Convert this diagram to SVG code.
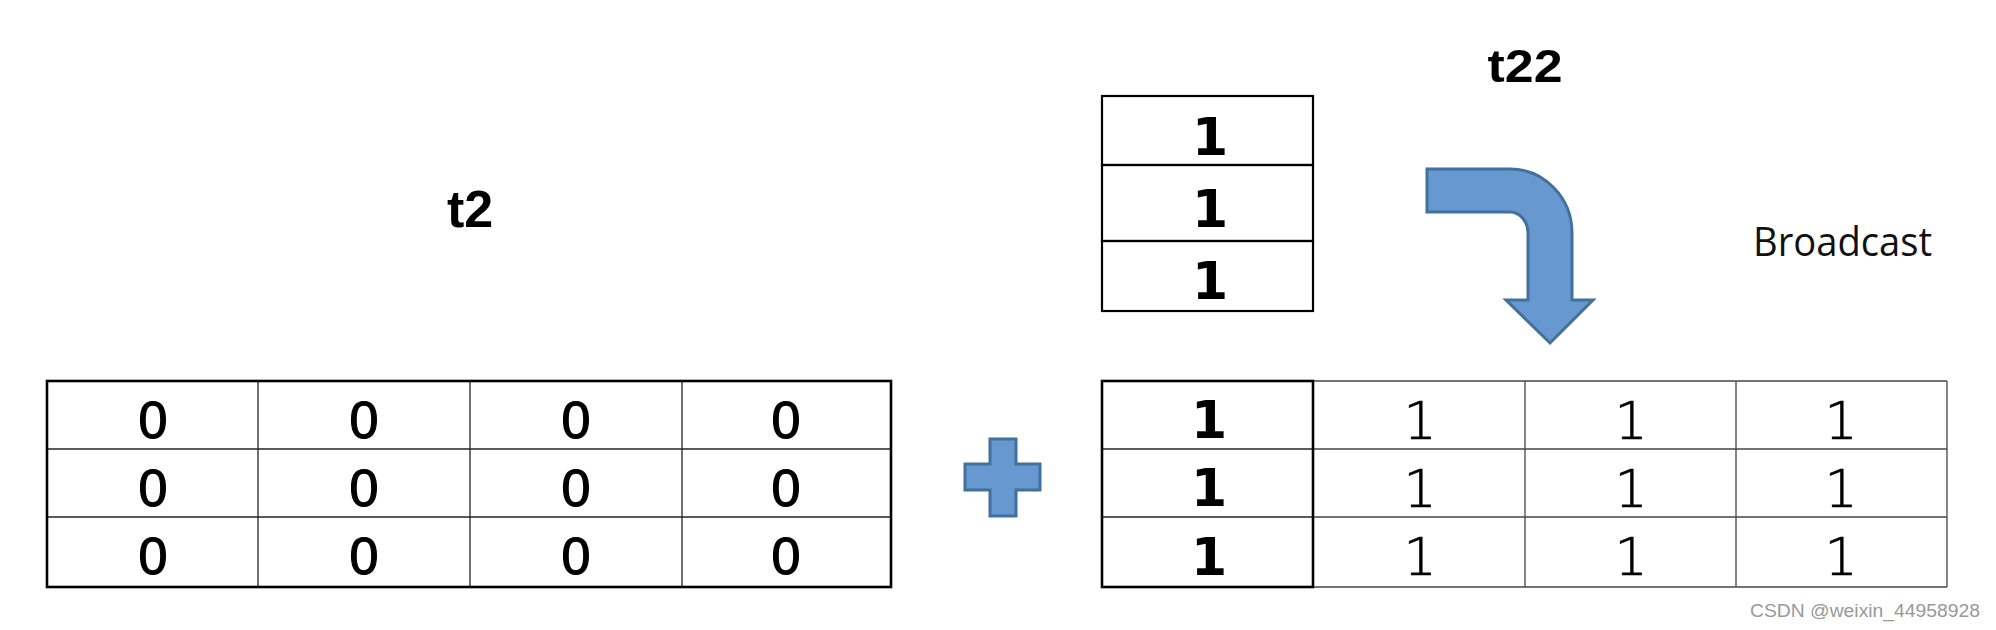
<svg xmlns="http://www.w3.org/2000/svg" width="1996" height="630" viewBox="0 0 1996 630">
<style>
.bg{fill:#ffffff}
.title{font-family:"Liberation Sans",Arial,sans-serif;font-weight:bold;fill:#000;text-anchor:middle}
.zero{font-family:"Liberation Sans",Arial,sans-serif;font-weight:normal;font-size:52px;fill:#000;stroke:#000;stroke-width:1.2;text-anchor:middle}
.oneb{font-family:"DejaVu Sans",sans-serif;font-weight:bold;font-size:52px;fill:#000;text-anchor:middle}
.onel{font-family:"DejaVu Sans",sans-serif;font-weight:200;font-size:52px;fill:#000;stroke:#000;stroke-width:0.7;text-anchor:middle}
.cell{fill:none;stroke:#222;stroke-width:1.3}
.outer{fill:none;stroke:#000;stroke-width:2.6}
.gcell{fill:none;stroke:#444;stroke-width:1.3}
.blue{fill:#6798D0;stroke:#41719C;stroke-width:3;stroke-linejoin:miter}
.label{font-family:"Open Sans","Noto Sans",sans-serif;font-size:40px;fill:#111}
.wm{font-family:"Liberation Sans",Arial,sans-serif;font-size:18px;fill:#999}
</style>
<rect class="bg" x="0" y="0" width="1996" height="630"/>

<g id="t2-label">
<text class="title" x="470" y="227" font-size="52">t2</text>
</g>

<g id="t2-table">
<line class="cell" x1="258" y1="381" x2="258" y2="587"/>
<line class="cell" x1="470" y1="381" x2="470" y2="587"/>
<line class="cell" x1="682" y1="381" x2="682" y2="587"/>
<line class="cell" x1="47" y1="449" x2="891" y2="449"/>
<line class="cell" x1="47" y1="517" x2="891" y2="517"/>
<rect class="outer" x="47" y="381" width="844" height="206"/>
<text class="zero" x="153" y="438">0</text>
<text class="zero" x="364" y="438">0</text>
<text class="zero" x="576" y="438">0</text>
<text class="zero" x="786" y="438">0</text>
<text class="zero" x="153" y="506">0</text>
<text class="zero" x="364" y="506">0</text>
<text class="zero" x="576" y="506">0</text>
<text class="zero" x="786" y="506">0</text>
<text class="zero" x="153" y="574">0</text>
<text class="zero" x="364" y="574">0</text>
<text class="zero" x="576" y="574">0</text>
<text class="zero" x="786" y="574">0</text>
</g>

<g id="t22-label">
<text class="title" x="1525" y="82" font-size="46" textLength="75" lengthAdjust="spacingAndGlyphs">t22</text>
</g>

<g id="t22-column">
<rect class="outer" x="1102" y="96" width="211" height="69" style="stroke-width:2.2"/>
<rect class="outer" x="1102" y="165" width="211" height="76" style="stroke-width:2.2"/>
<rect class="outer" x="1102" y="241" width="211" height="70" style="stroke-width:2.2"/>
<text class="oneb" x="1210" y="155">1</text>
<text class="oneb" x="1210" y="227">1</text>
<text class="oneb" x="1210" y="299">1</text>
</g>

<g id="broadcast-label">
<text class="label" x="1753" y="256" textLength="179" lengthAdjust="spacingAndGlyphs">Broadcast</text>
</g>

<g id="plus">
<path class="blue" d="M990,439 H1016 V464 H1040 V490 H1016 V516 H990 V490 H965 V464 H990 Z"/>
</g>

<g id="result-table">
<line class="gcell" x1="1313" y1="381" x2="1947" y2="381"/>
<line class="gcell" x1="1313" y1="587" x2="1947" y2="587"/>
<line class="gcell" x1="1525" y1="381" x2="1525" y2="587"/>
<line class="gcell" x1="1736" y1="381" x2="1736" y2="587"/>
<line class="gcell" x1="1947" y1="381" x2="1947" y2="587"/>
<line class="gcell" x1="1313" y1="449" x2="1947" y2="449"/>
<line class="gcell" x1="1313" y1="517" x2="1947" y2="517"/>
<line class="cell" x1="1102" y1="449" x2="1313" y2="449"/>
<line class="cell" x1="1102" y1="517" x2="1313" y2="517"/>
<rect class="outer" x="1102" y="381" width="211" height="206"/>
<text class="oneb" x="1209" y="438">1</text>
<text class="oneb" x="1209" y="506">1</text>
<text class="oneb" x="1209" y="575">1</text>
<text class="onel" x="1420" y="439">1</text>
<text class="onel" x="1631" y="439">1</text>
<text class="onel" x="1841" y="439">1</text>
<text class="onel" x="1420" y="507">1</text>
<text class="onel" x="1631" y="507">1</text>
<text class="onel" x="1841" y="507">1</text>
<text class="onel" x="1420" y="575">1</text>
<text class="onel" x="1631" y="575">1</text>
<text class="onel" x="1841" y="575">1</text>
</g>

<g id="connectors">
<path class="blue" d="M1427,169 L1510,169 A62,64 0 0 1 1572,233 L1572,300 L1593,300 L1550,343 L1506,300 L1528,300 L1528,233 A18,21 0 0 0 1510,212 L1427,212 Z"/>
</g>

<g id="watermark">
<text class="wm" x="1750" y="617" textLength="230" lengthAdjust="spacingAndGlyphs">CSDN @weixin_44958928</text>
</g>
</svg>
